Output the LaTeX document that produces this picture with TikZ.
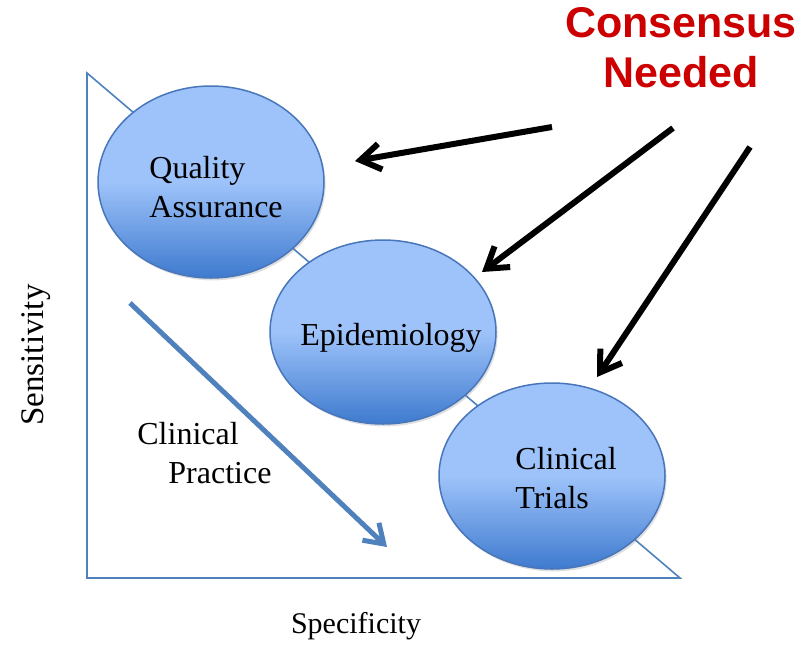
\documentclass[tikz,border=0pt]{standalone}
\usepackage{fontspec}
\setmainfont{Liberation Serif}
\newfontfamily\headfont{Liberation Sans}
\usetikzlibrary{positioning,arrows.meta,shapes.geometric,shadows}
\definecolor{edgeblue}{RGB}{72,118,186}
\definecolor{axisblue}{RGB}{79,129,189}
\definecolor{lightfill}{RGB}{158,195,250}
\definecolor{darkfill}{RGB}{62,122,206}
\definecolor{alertred}{RGB}{204,0,0}
\pgfdeclareverticalshading{bubble}{100bp}{color(0bp)=(darkfill); color(25bp)=(darkfill);
  color(50bp)=(lightfill); color(100bp)=(lightfill)}

\begin{document}
\begin{tikzpicture}[
  x=0.5pt,y=-0.5pt,
  font=\fontsize{16pt}{19.5pt}\selectfont,
  bubble/.style={ellipse,draw=edgeblue,line width=0.75pt,shading=bubble,inner sep=0pt,
    minimum width=113pt,minimum height=93pt,
    drop shadow={opacity=0.25,shadow xshift=0.8pt,shadow yshift=-1.2pt}},
  tag/.style={anchor=base west,inner sep=0pt,align=left},
  pointer/.style={-{Straight Barb[length=10pt,width=13pt]},line width=3pt,black},
  trend/.style={-{Straight Barb[length=9pt,width=12pt]},line width=2.5pt,axisblue},
]
\useasboundingbox (0,0) rectangle (808,654);
% ---- axes triangle ----
\coordinate (top) at (87,73);
\coordinate (origin) at (87,578);
\coordinate (right) at (680,578);
\draw[axisblue,line width=0.8pt,line join=miter] (top) -- (origin) -- (right) -- cycle;
\node[rotate=90,anchor=base,inner sep=0pt,font=\fontsize{16.5pt}{19.5pt}\selectfont] (sens) at (43,355) {Sensitivity};
\node[anchor=base,inner sep=0pt,font=\fontsize{15pt}{19pt}\selectfont] (spec) at (356,633) {Specificity};
% ---- study types along the diagonal ----
\node[bubble,minimum height=96pt] (qa)  at (211,182) {};
\node[bubble,minimum height=92pt] (epi) at (383,332) {};
\node[bubble] (trials) at (552,476) {};
% (multi-line tags sit on the baseline of their last line)
\node[tag] (qatxt) at (149,217) {Quality\\Assurance};
\node[tag] (epitxt) at (300,345) {Epidemiology};
\node[tag] (trialstxt) at (515,508) {Clinical\\Trials};
% ---- clinical practice trend ----
\coordinate (cpstart) at (130,303);
\coordinate (cpend) at (387,547);
\draw[trend] (cpstart) -- (cpend);
\node[tag] (cptxt) at (137,483) {Clinical\\\hspace{15.5pt}Practice};
% ---- consensus callout ----
\node[anchor=base,inner sep=0pt,align=center,text=alertred,
      font=\headfont\bfseries\fontsize{21.5pt}{25pt}\selectfont] (consensus) at (681,87) {Consensus\\Needed};
\coordinate (from1) at (552,127);
\coordinate (from2) at (673,128);
\coordinate (from3) at (750,147);
\coordinate (to1) at (355,161);
\coordinate (to2) at (482,272);
\coordinate (to3) at (597,377);
\draw[pointer] (from1) -- (to1);
\draw[pointer] (from2) -- (to2);
\draw[pointer] (from3) -- (to3);
\end{tikzpicture}
\end{document}
